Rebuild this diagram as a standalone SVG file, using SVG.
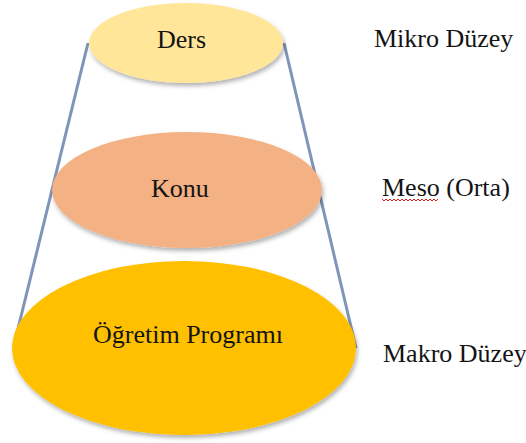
<svg xmlns="http://www.w3.org/2000/svg" width="526" height="443" viewBox="0 0 526 443">
  <defs>
    <filter id="soft-shadow" x="-10%" y="-10%" width="125%" height="130%">
      <feDropShadow dx="1.5" dy="3" stdDeviation="2" flood-color="#000" flood-opacity="0.3"/>
    </filter>
  </defs>
  <style>
    .level { filter: url(#soft-shadow); }
    .side { stroke: #7f95b8; stroke-width: 3; fill: none; }
    .label { font-family: "Liberation Serif", "Times New Roman", serif; font-size: 26px; fill: #141414; }
    .squiggle { stroke: #e0201c; stroke-width: 1; fill: none; }
  </style>

  <rect width="526" height="443" fill="#ffffff"/>

  <!-- cone sides joining the three levels -->
  <g id="connectors">
    <line class="side" x1="88" y1="43" x2="14" y2="345"/>
    <line class="side" x1="284" y1="43" x2="356" y2="348"/>
  </g>

  <g id="node-ogretim-programi">
    <ellipse class="level" cx="184" cy="348" rx="172" ry="87" fill="#ffc000"/>
    <text class="label" x="93" y="343">Öğretim Programı</text>
  </g>

  <g id="node-konu">
    <ellipse class="level" cx="187" cy="190" rx="135" ry="58" fill="#f4b183"/>
    <text class="label" x="151" y="197">Konu</text>
  </g>

  <g id="node-ders">
    <ellipse class="level" cx="186" cy="43" rx="97" ry="40" fill="#ffe699"/>
    <text class="label" x="157" y="48">Ders</text>
  </g>

  <!-- level names on the right -->
  <g id="label-mikro">
    <text class="label" x="374" y="47">Mikro Düzey</text>
  </g>
  <g id="label-meso">
    <text class="label" x="382" y="196">Meso (Orta)</text>
    <path class="squiggle" d="M382 199 l2 2 l2 -2 l2 2 l2 -2 l2 2 l2 -2 l2 2 l2 -2 l2 2 l2 -2 l2 2 l2 -2 l2 2 l2 -2 l2 2 l2 -2 l2 2 l2 -2 l2 2 l2 -2 l2 2 l2 -2 l2 2 l2 -2 l2 2 l2 -2 l2 2 l2 -2"/>
  </g>
  <g id="label-makro">
    <text class="label" x="383" y="362">Makro Düzey</text>
  </g>
</svg>
